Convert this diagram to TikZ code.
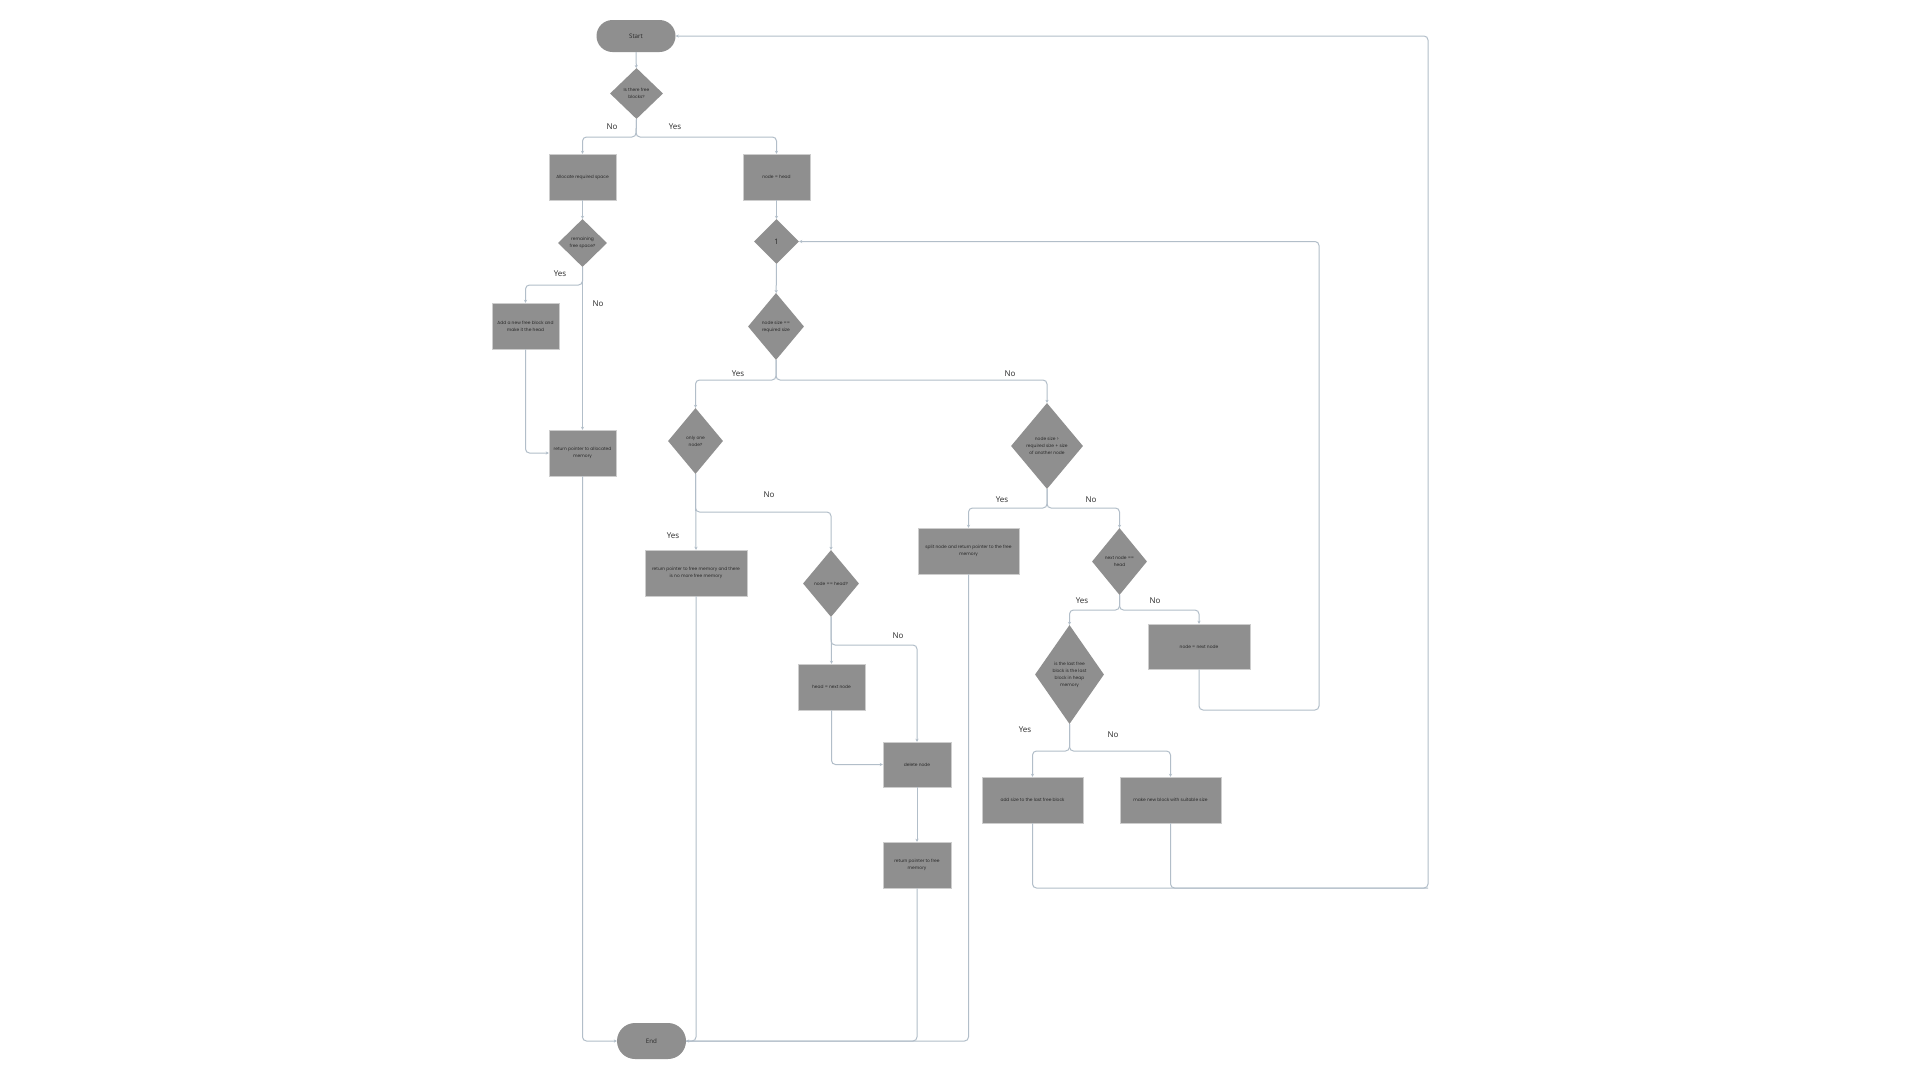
\documentclass[tikz,border=0pt]{standalone}
\usepackage{fontspec}
\usetikzlibrary{shapes.geometric,arrows.meta}
\newfontfamily\boxfont{Poppins}
\newfontfamily\labfont{Open Sans}
\newcommand\boxtxt{\boxfont\fontsize{4.4}{7}\selectfont}
\newcommand\labtxt{\labfont\fontsize{8}{9}\selectfont}
\newcommand\termtxt{\labfont\fontsize{6.2}{7}\selectfont}
\newcommand\numtxt{\labfont\fontsize{7.5}{8}\selectfont}
\definecolor{shapegray}{RGB}{143,143,143}
\definecolor{edgegray}{RGB}{205,205,205}
\definecolor{txtdark}{RGB}{40,40,40}
\definecolor{linecol}{RGB}{178,190,201}
\definecolor{labcol}{RGB}{40,40,40}
\tikzset{
  proc/.style={rectangle, fill=shapegray, draw=edgegray, line width=0.5pt, inner sep=1pt, align=center, font=\boxtxt, text=txtdark},
  decision/.style={diamond, fill=shapegray, inner sep=0pt, align=center, font=\boxtxt, text=txtdark},
  terminal/.style={rectangle, fill=shapegray, font=\termtxt, text=txtdark, inner sep=0pt},
  conn/.style={draw=linecol, line width=1pt, rounded corners=4pt},
  arr/.style={conn, -{Stealth[length=3pt,width=3.2pt]}},
  lbl/.style={font=\labtxt, text=labcol, inner sep=0pt},
}
\begin{document}
\begin{tikzpicture}[x=1pt,y=-1pt]
\path[use as bounding box, fill=white] (0,0) rectangle (1920,1080);

% terminals
\node[terminal, minimum width=79pt, minimum height=32pt, rounded corners=16pt] (start) at (636,36) {Start};
\node[terminal, minimum width=69pt, minimum height=36pt, rounded corners=18pt] (end) at (651.5,1041) {End};

% left branch: no free blocks
\node[decision, minimum width=53pt, minimum height=51pt] (q1) at (636.5,93.5) {Is there free\\blocks?};
\node[proc, minimum width=67pt, minimum height=46pt] (alloc) at (582.5,177) {Allocate required space};
\node[decision, minimum width=49pt, minimum height=48pt] (q2) at (582.5,243) {remaining\\free space?};
\node[proc, minimum width=67pt, minimum height=46pt] (addb) at (525.5,326) {Add a new free block and\\make it the head};
\node[proc, minimum width=67pt, minimum height=46pt] (retal) at (582.5,453) {return pointer to allocated\\memory};

% right branch: walk the free list
\node[proc, minimum width=67pt, minimum height=46pt] (nh) at (776.5,177) {node = head};
\node[decision, minimum width=45pt, minimum height=45pt, font=\numtxt] (d1) at (776.5,241.5) {1};
\node[decision, minimum width=56pt, minimum height=67pt] (q3) at (776,326.5) {node size ==\\required size};
\node[decision, minimum width=55pt, minimum height=66pt] (q4) at (695.5,441) {only one\\node?};
\node[proc, minimum width=102pt, minimum height=46pt] (retone) at (696,573) {return pointer to free memory and there\\is no more free memory};
\node[decision, minimum width=56pt, minimum height=67pt] (q6) at (831,583.5) {node == head?};
\node[proc, minimum width=67pt, minimum height=46pt] (hnn) at (831.5,687) {head = next node};
\node[proc, minimum width=68pt, minimum height=45pt] (del) at (917,764.5) {delete node};
\node[proc, minimum width=68pt, minimum height=46pt] (retfree) at (917,865) {return pointer to free\\memory};

\node[decision, minimum width=72pt, minimum height=86pt] (q5) at (1047,446) {node size >\\required size + size\\of another node};
\node[proc, minimum width=101pt, minimum height=46pt] (split) at (968.5,551) {split node and return pointer to the free\\memory};
\node[decision, minimum width=55pt, minimum height=67pt] (q7) at (1119.5,561.5) {next node ==\\head};
\node[proc, minimum width=102pt, minimum height=45pt] (nn) at (1199,646.5) {node = next node};
\node[decision, minimum width=69pt, minimum height=99pt] (q8) at (1069.5,674.5) {is the last free\\block is the last\\block in heap\\memory};
\node[proc, minimum width=101pt, minimum height=46pt] (addsz) at (1032.5,800) {add size to the last free block};
\node[proc, minimum width=101pt, minimum height=46pt] (mknew) at (1170.5,800) {make new block with suitable size};

% branch points and corners
\coordinate (b1) at (636,137);
\coordinate (b2) at (582.5,285);
\coordinate (b3) at (776,380);
\coordinate (b4) at (695.5,512);
\coordinate (b5) at (831,645);
\coordinate (b6) at (1047,508);
\coordinate (b7) at (1119.5,610);
\coordinate (b8) at (1069.5,751);
\coordinate (lp) at (1319,710);
\coordinate (rc) at (1428,888);

% connectors
\draw[arr] (start) -- (q1);
\draw[arr] (q1.south) -- (b1) -| (alloc.north);
\draw[arr] (q1.south) -- (b1) -| (nh.north);
\draw[arr] (alloc) -- (q2);
\draw[arr] (q2.south) -- (b2) -| (addb.north);
\draw[arr] (q2.south) -- (retal.north);
\draw[arr] (addb.south) |- (retal.west);
\draw[arr] (retal.south) |- (end.west);

\draw[arr] (nh) -- (d1);
\draw[arr] (d1) -- (q3);
\draw[arr] (q3.south) -- (b3) -| (q4.north);
\draw[arr] (q3.south) -- (b3) -| (q5.north);
\draw[arr] (q4.south) -- (retone.north);
\draw[arr] (q4.south) -- (b4) -| (q6.north);
\draw[arr] (q6.south) -- (hnn.north);
\draw[arr] (q6.south) -- (b5) -| (del.north);
\draw[arr] (hnn.south) |- (del.west);
\draw[arr] (del) -- (retfree);

\draw[arr] (q5.south) -- (b6) -| (split.north);
\draw[arr] (q5.south) -- (b6) -| (q7.north);
\draw[arr] (q7.south) -- (b7) -| (q8.north);
\draw[arr] (q7.south) -- (b7) -| (nn.north);
\draw[arr] (nn.south) |- (lp) |- (d1.east);
\draw[arr] (q8.south) -- (b8) -| (addsz.north);
\draw[arr] (q8.south) -- (b8) -| (mknew.north);

% returns to End
\draw[conn] (retone.south) |- (end.east);
\draw[conn] (retfree.south) |- (end.east);
\draw[arr] (split.south) |- (end.east);

% back to Start
\draw[conn] (addsz.south) |- (rc);
\draw[arr] (mknew.south) |- (rc) |- (start.east);

% branch labels
\node[lbl] (l1) at (612,127) {No};
\node[lbl] (l2) at (675,127) {Yes};
\node[lbl] (l3) at (560,274) {Yes};
\node[lbl] (l4) at (598,304) {No};
\node[lbl] (l5) at (738,374) {Yes};
\node[lbl] (l6) at (1010,374) {No};
\node[lbl] (l7) at (769,495) {No};
\node[lbl] (l8) at (673,536) {Yes};
\node[lbl] (l9) at (898,636) {No};
\node[lbl] (l10) at (1002,500) {Yes};
\node[lbl] (l11) at (1091,500) {No};
\node[lbl] (l12) at (1082,601) {Yes};
\node[lbl] (l13) at (1155,601) {No};
\node[lbl] (l14) at (1025,730) {Yes};
\node[lbl] (l15) at (1113,735) {No};
\end{tikzpicture}
\end{document}
